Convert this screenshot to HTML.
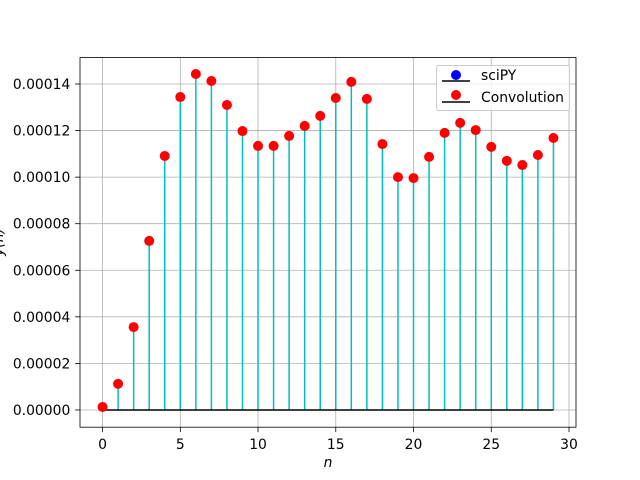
<!DOCTYPE html>
<html><head><meta charset="utf-8"><style>
html,body{margin:0;padding:0;background:#fff;}
svg{display:block;font-family:"DejaVu Sans","Liberation Sans",sans-serif;}
</style></head><body>
<svg id="chart" width="640" height="480" viewBox="0 0 640 480"></svg>
<script>
const nValues=[0,1,2,3,4,5,6,7,8,9,10,11,12,13,14,15,16,17,18,19,20,21,22,23,24,25,26,27,28,29];
const yValues=[1.3e-6,1.12e-5,3.56e-5,7.26e-5,1.091e-4,1.344e-4,1.443e-4,1.413e-4,1.31e-4,1.198e-4,1.134e-4,1.134e-4,1.177e-4,1.22e-4,1.263e-4,1.34e-4,1.409e-4,1.336e-4,1.142e-4,1.0e-4,9.96e-5,1.087e-4,1.19e-4,1.233e-4,1.202e-4,1.13e-4,1.07e-4,1.052e-4,1.095e-4,1.168e-4];
const xTicks=[0,5,10,15,20,25,30];
const yTicks=[0,0.00002,0.00004,0.00006,0.00008,0.0001,0.00012,0.00014];
const yTickLabels=["0.00000","0.00002","0.00004","0.00006","0.00008","0.00010","0.00012","0.00014"];

const L=80,R=576,T=57.6,B=427.2;
const xMin=-1.45,xMax=30.45,yMin=-7.4e-6,yMax=1.5134e-4;
const FS=13.9;
const sx=v=>L+(v-xMin)/(xMax-xMin)*(R-L);
const sy=v=>B-(v-yMin)/(yMax-yMin)*(B-T);
const svg=document.getElementById('chart');
const NS='http://www.w3.org/2000/svg';
function mk(tag,attrs,parent){const e=document.createElementNS(NS,tag);for(const k in attrs)e.setAttribute(k,attrs[k]);(parent||svg).appendChild(e);return e;}

xTicks.forEach(t=>{const g=mk('line',{x1:sx(t),x2:sx(t),y1:T,y2:B,stroke:'#b0b0b0','stroke-width':0.8});

});
yTicks.forEach(t=>{const g=mk('line',{x1:L,x2:R,y1:sy(t),y2:sy(t),stroke:'#b0b0b0','stroke-width':0.8});

});

nValues.forEach((n,i)=>{const s=mk('line',{x1:sx(n),x2:sx(n),y1:sy(0),y2:sy(yValues[i]),stroke:'#00bfbf','stroke-width':1.5});

});
const bl=mk('line',{x1:sx(nValues[0]),x2:sx(nValues[nValues.length-1]),y1:sy(0),y2:sy(0),stroke:'#000','stroke-width':1.5});


nValues.forEach((n,i)=>{const c=mk('circle',{cx:sx(n),cy:sy(yValues[i]),r:5,fill:'#ff0000'});

});

const fr=mk('rect',{x:L,y:T,width:R-L,height:B-T,fill:'none',stroke:'#000','stroke-width':0.8});



xTicks.forEach(t=>{mk('line',{x1:sx(t),x2:sx(t),y1:B,y2:B+4.9,stroke:'#000','stroke-width':0.8});
const tx=mk('text',{x:sx(t),y:B+22,'font-size':FS,'text-anchor':'middle',fill:'#000'});tx.textContent=t;

});
yTicks.forEach((t,i)=>{mk('line',{x1:L-4.9,x2:L,y1:sy(t),y2:sy(t),stroke:'#000','stroke-width':0.8});
const tx=mk('text',{x:L-9.7,y:sy(t)+5,'font-size':FS,'text-anchor':'end',fill:'#000'});tx.textContent=yTickLabels[i];

});

const xl=mk('text',{x:(L+R)/2,y:467,'font-size':FS,'text-anchor':'middle','font-style':'italic'});xl.textContent='n';


const yl=mk('text',{x:0,y:0,'font-size':FS,'text-anchor':'middle',transform:'translate(3,242) rotate(-90)','font-style':'italic'});yl.textContent='y(n)';



const lg=mk('g',{});


mk('rect',{x:436.5,y:65.5,width:133,height:45,rx:2,fill:'#fff','fill-opacity':0.8,stroke:'#cccccc'},lg);
const e1=mk('g',{},lg);


mk('line',{x1:442,x2:470,y1:81,y2:81,stroke:'#000','stroke-width':1.5},e1);
mk('circle',{cx:456,cy:75,r:5,fill:'#0000ff'},e1);
const t1=mk('text',{x:481,y:80,'font-size':FS},e1);t1.textContent='sciPY';
const e2=mk('g',{},lg);


mk('line',{x1:442,x2:470,y1:102,y2:102,stroke:'#000','stroke-width':1.5},e2);
mk('circle',{cx:456,cy:95,r:5,fill:'#ff0000'},e2);
const t2=mk('text',{x:481,y:102,'font-size':FS},e2);t2.textContent='Convolution';
</script>
</body></html>
